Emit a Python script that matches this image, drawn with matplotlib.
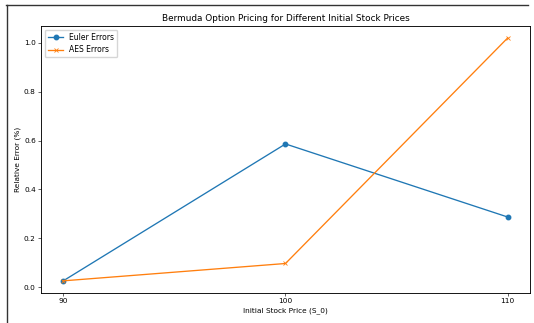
import numpy as np
import matplotlib
matplotlib.use("Agg")
import matplotlib.pyplot as plt
from matplotlib.lines import Line2D

# data
stock_prices = [90, 100, 110]
euler_errors = [0.026, 0.586, 0.287]
aes_errors = [0.026, 0.097, 1.020]

W, H = 534, 323
s = 0.534  # scale from a 10x6 style figure

fig = plt.figure(figsize=(W / 100, H / 100), dpi=100)
ax = fig.add_axes([41 / W, 1 - 293 / H, (530 - 41) / W, (293 - 25.7) / H])

ax.plot(stock_prices, euler_errors, marker='o', label='Euler Errors',
        linewidth=0.95, markersize=6 * s)
ax.plot(stock_prices, aes_errors, marker='x', label='AES Errors',
        linewidth=0.95, markersize=6 * s, markeredgewidth=0.6)

ax.set_xticks(stock_prices)
ax.set_title('Bermuda Option Pricing for Different Initial Stock Prices',
             fontsize=12 * s, pad=6 * s)
ax.set_xlabel('Initial Stock Price (S_0)', fontsize=10 * s, labelpad=4 * s)
ax.set_ylabel('Relative Error (%)', fontsize=10 * s, labelpad=4 * s)
ax.tick_params(labelsize=10 * s, width=0.8 * s, length=3.5 * s, pad=3.5 * s)
for sp in ax.spines.values():
    sp.set_linewidth(0.8 * s * 1.5)
ax.legend(loc='upper left', fontsize=10.3 * s, frameon=True)

# outer frame of the screenshot
fig.add_artist(Line2D([6 / W, 528 / W], [1 - 5 / H, 1 - 5 / H],
                      transform=fig.transFigure, color='#333333', linewidth=1.0))
fig.add_artist(Line2D([6.7 / W, 6.7 / W], [1 - 5 / H, 0],
                      transform=fig.transFigure, color='#333333', linewidth=1.0))

fig.savefig('out.png', dpi=100)
